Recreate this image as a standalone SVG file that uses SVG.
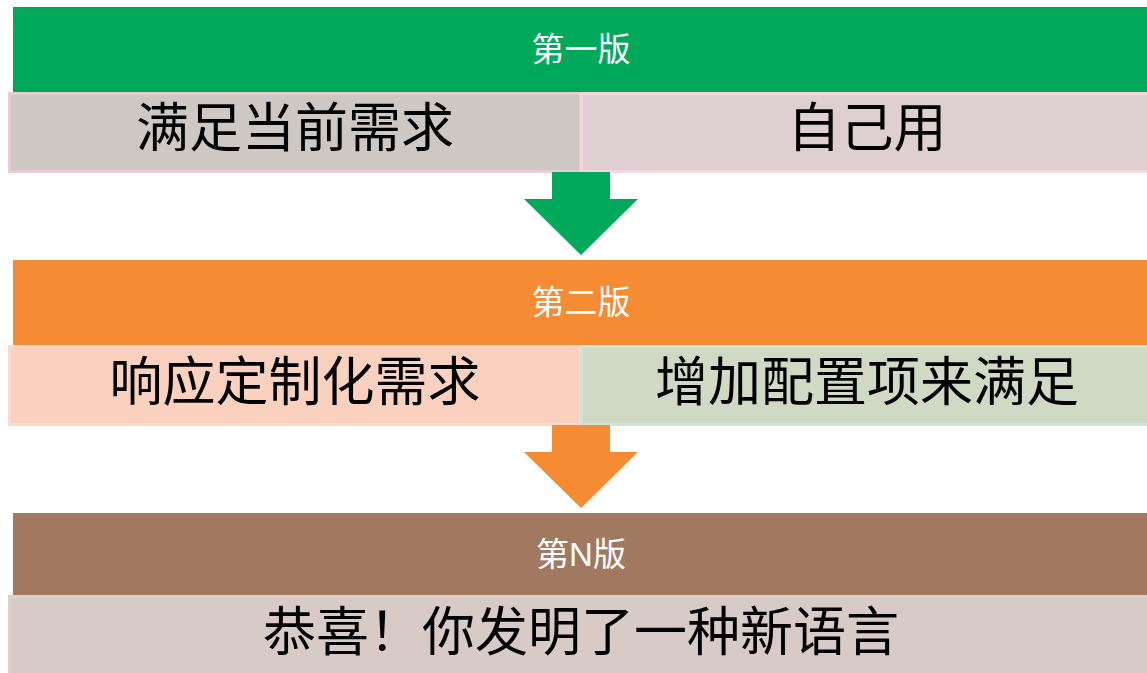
<svg xmlns="http://www.w3.org/2000/svg" width="1147" height="673" viewBox="0 0 1147 673">
<style>
.hd{font-family:"Liberation Sans","Noto Sans CJK SC",sans-serif;font-size:33px;fill:#fff;text-anchor:middle}
.tx{font-family:"Noto Sans CJK SC",sans-serif;font-size:53px;fill:#000;text-anchor:middle}
.cell{stroke-width:3}
</style>
<rect width="1147" height="673" fill="#fff"/>
<g id="v1">
<rect x="13" y="7" width="1140" height="85" fill="#00A95A"/>
<text class="hd" x="581" y="61">第一版</text>
</g>
<g id="v1-left">
<rect class="cell" x="9.5" y="93.5" width="571" height="78" fill="#CDC8C4" stroke="#E6CDD3"/>
<text class="tx" x="295" y="147">满足当前需求</text>
</g>
<g id="v1-right">
<rect class="cell" x="581.5" y="93.5" width="570" height="78" fill="#DECFD2" stroke="#F8D4DF"/>
<text class="tx" x="867" y="147">自己用</text>
</g>
<g id="v2">
<rect x="13" y="260" width="1140" height="85" fill="#F58B33"/>
<text class="hd" x="581" y="314">第二版</text>
</g>
<g id="v2-left">
<rect class="cell" x="9.5" y="346.5" width="571" height="78" fill="#FAD0BE" stroke="#FBD9CB"/>
<text class="tx" x="295" y="401">响应定制化需求</text>
</g>
<g id="v2-right">
<rect class="cell" x="581.5" y="346.5" width="570" height="78" fill="#D0D9C3" stroke="#D3E3D9"/>
<text class="tx" x="867" y="401">增加配置项来满足</text>
</g>
<g id="vN">
<rect x="13" y="513" width="1140" height="82" fill="#A17961"/>
<text class="hd" x="581" y="566">第N版</text>
</g>
<g id="vN-row">
<rect class="cell" x="9.5" y="596.5" width="1142" height="80" fill="#D8CBC7" stroke="#DCCFCB"/>
<text class="tx" x="581" y="651">恭喜！你发明了一种新语言</text>
</g>
<g id="connectors">
<polygon points="552,172 610,172 610,199 638,199 581,255 524,199 552,199" fill="#00A95A"/>
<polygon points="552,425 610,425 610,452 638,452 581,508 524,452 552,452" fill="#F58B33"/>
</g>
</svg>
